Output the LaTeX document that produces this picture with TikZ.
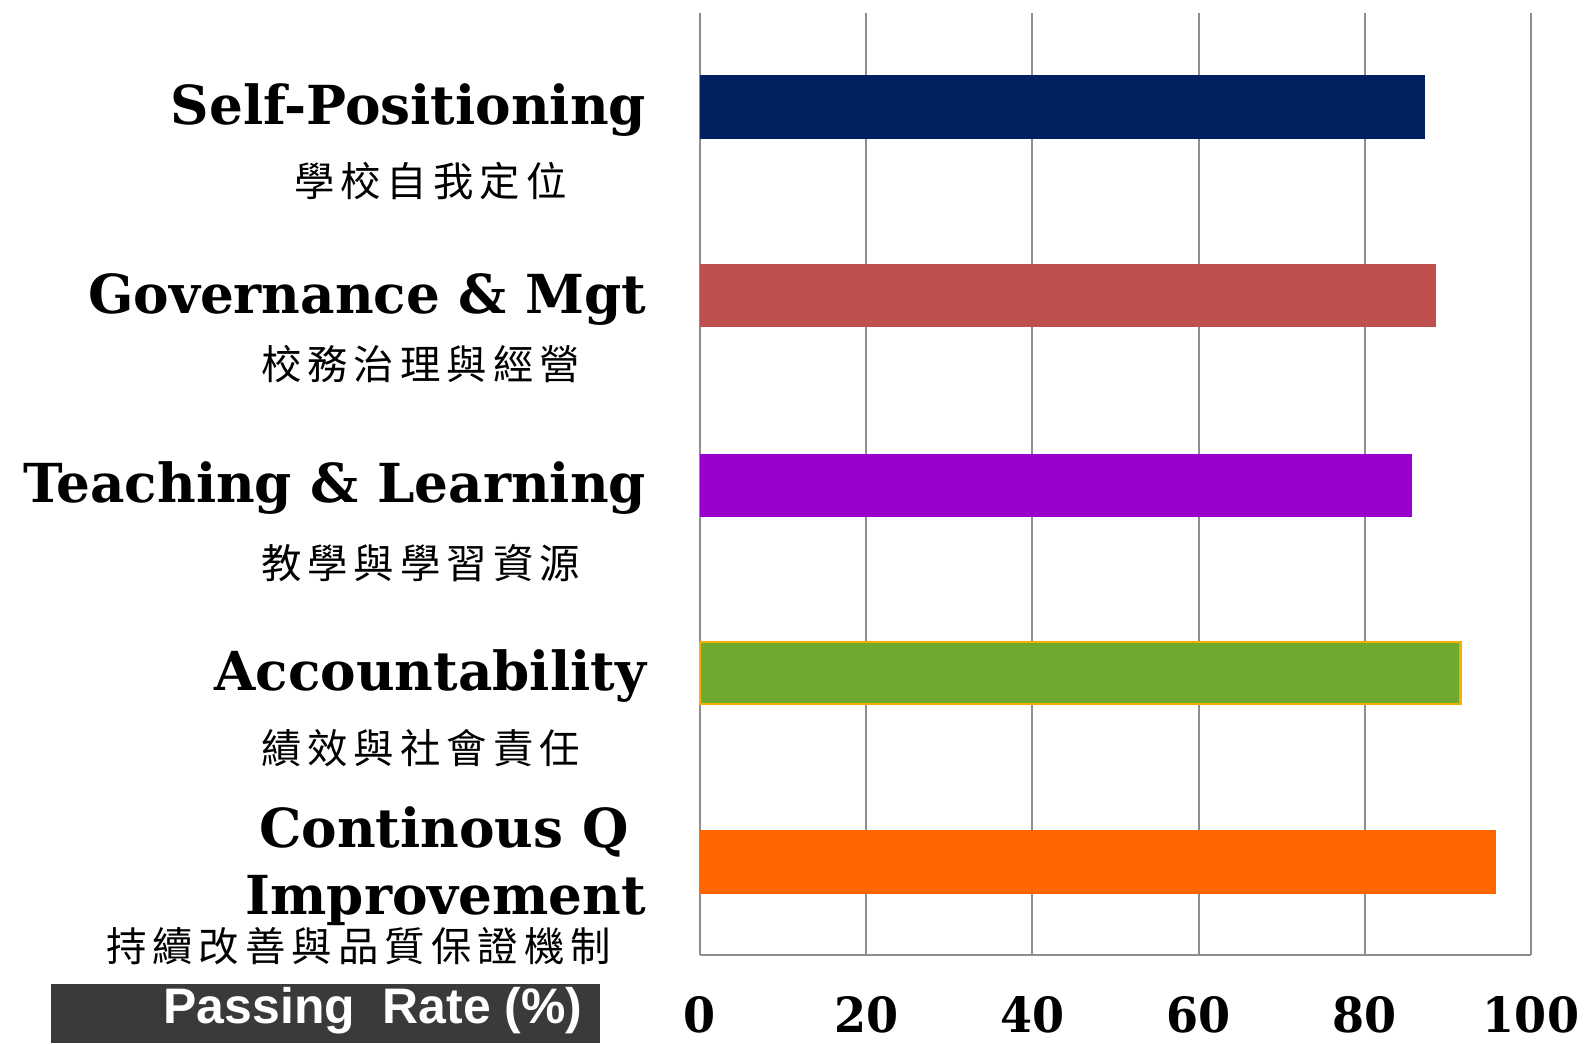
\documentclass[tikz,border=0pt]{standalone}
\usepackage{fontspec}
\setmainfont{DejaVu Serif}
\newfontfamily\catfont[FakeStretch=0.99]{DejaVu Serif}
\newfontfamily\tickfont[FakeStretch=0.95]{DejaVu Serif}
\newfontfamily\cjkfont[LetterSpace=15]{Noto Sans CJK TC}
\newfontfamily\boxfont{Liberation Sans}

\definecolor{barnavy}{HTML}{002060}
\definecolor{barred}{HTML}{C0504D}
\definecolor{barpurple}{HTML}{9900CC}
\definecolor{bargreen}{HTML}{6FA92F}
\definecolor{baredge}{HTML}{F2B000}
\definecolor{barorange}{HTML}{FF6600}
\definecolor{gridgray}{HTML}{8E8E8E}
\definecolor{boxgray}{HTML}{3A3A3A}

\begin{document}
\begin{tikzpicture}[
      x=0.1mm, y=-0.1mm,
      every node/.style={inner sep=0pt, outer sep=0pt},
      catname/.style={anchor=east, align=right, font=\catfont\bfseries\fontsize{15.3}{19}\selectfont},
      cjkname/.style={anchor=west, font=\cjkfont\fontsize{11.5}{14}\selectfont},
      ticklabel/.style={anchor=base, font=\tickfont\bfseries\fontsize{13.8}{16}\selectfont},
      gridline/.style={draw=gridgray, line width=0.6pt}
    ]
    \useasboundingbox (0,0) rectangle (1588,1043);

    % category labels
    \node[catname] (selfpos) at (646,110) {Self-Positioning};
    \node[cjkname] (selfposzh) at (294,181) {學校自我定位};
    \node[catname] (govern) at (646,300) {Governance \& Mgt};
    \node[cjkname] (governzh) at (261,364) {校務治理與經營};
    \node[catname] (teach) at (646,488) {Teaching \& Learning};
    \node[cjkname] (teachzh) at (261,563) {教學與學習資源};
    \node[catname] (account) at (646,676) {Accountability};
    \node[cjkname] (accountzh) at (261,748) {績效與社會責任};
    \node[catname] (improve) at (646,866) {Continous Q\hbox to 5pt{}\\Improvement};
    \node[cjkname] (improvezh) at (106,946) {持續改善與品質保證機制};

    % axis caption
    \fill[boxgray] (51,984) rectangle (600,1043);
    \node[font=\boxfont\bfseries\fontsize{14.2}{17}\selectfont, text=white] (caption) at (373,1011) {Passing\ \ Rate (\%)};

    \begin{scope}[shift={(700,0)}, x=0.831mm]
        \draw[gridline] (0,13) -- (0,955) (20,13) -- (20,955) (40,13) -- (40,955)
            (60,13) -- (60,955) (80,13) -- (80,955) (100,13) -- (100,955);
        \draw[gridline] (0,955) -- (100,955);

        \fill[barnavy] (0,75) rectangle (87.2,139);
        \fill[barred] (0,264) rectangle (88.6,327);
        \fill[barpurple] (0,454) rectangle (85.7,517);
        \draw[fill=bargreen, draw=baredge, line width=0.8pt] (0,642) rectangle (91.5,704);
        \fill[barorange] (0,830) rectangle (95.8,894);

        \node[ticklabel] (t0) at (0,1032) {0};
        \node[ticklabel] (t20) at (20,1032) {20};
        \node[ticklabel] (t40) at (40,1032) {40};
        \node[ticklabel] (t60) at (60,1032) {60};
        \node[ticklabel] (t80) at (80,1032) {80};
        \node[ticklabel] (t100) at (100,1032) {100};
    \end{scope}

\end{tikzpicture}
\end{document}
